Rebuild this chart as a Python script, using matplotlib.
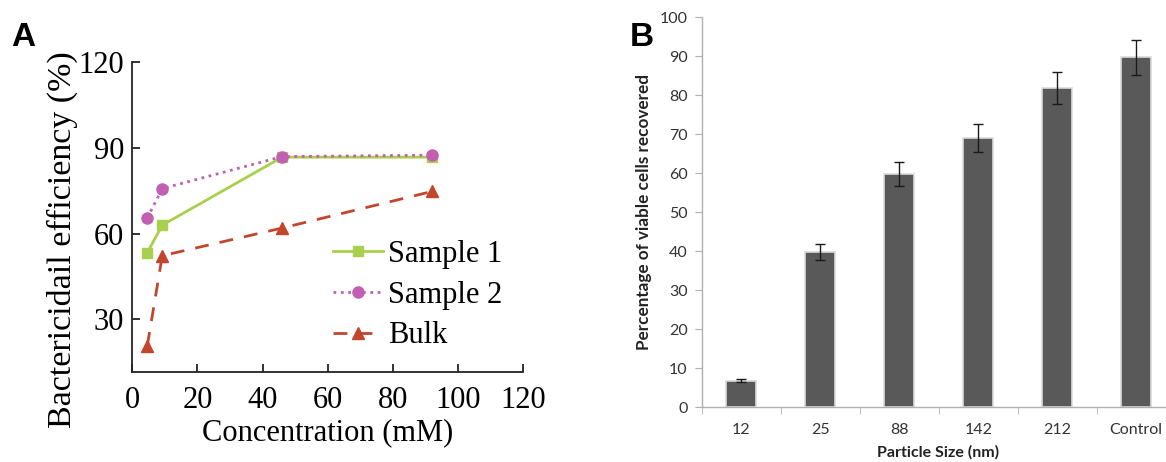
import matplotlib
matplotlib.use('Agg')
import matplotlib.pyplot as plt

# Panel A: bactericidal efficiency vs concentration
conc = [4.6, 9.2, 46, 92]
sample1 = [53.4, 63.0, 86.8, 86.8]
sample2 = [65.5, 75.8, 87.0, 87.5]
bulk = [20.8, 52.3, 62.0, 74.8]

# Panel B: viable cells recovered vs particle size
sizes = ['12', '25', '88', '142', '212', 'Control']
viable = [6.8, 39.9, 59.8, 69.0, 81.9, 89.8]
viable_err = [0.4, 2.1, 3.0, 3.6, 4.2, 4.5]

W, H = 1166, 462
fig = plt.figure(figsize=(W / 100, H / 100), dpi=100)

# ---------- A ----------
serif = 'Liberation Serif'
axA = fig.add_axes([132.3 / W, 1 - 372.3 / H, (523.3 - 132.3) / W, (372.3 - 62.3) / H])
axA.plot(conc, sample1, '-', color='#a8d04c', lw=2, marker='s', ms=7, label='Sample 1')
axA.plot(conc, sample2, ':', color='#c25fb3', lw=2, marker='o', ms=8, label='Sample 2')
axA.plot(conc, bulk, '--', color='#c2462c', lw=2, marker='^', ms=8, dashes=(5, 4), label='Bulk')
axA.set_xlim(0, 120)
axA.set_ylim(11.5, 120)
axA.set_xticks(range(0, 121, 20))
axA.set_yticks([30, 60, 90, 120])
for s in ['top', 'right']:
    axA.spines[s].set_visible(False)
for s in ['left', 'bottom']:
    axA.spines[s].set_linewidth(1.3)
    axA.spines[s].set_color('#222222')
axA.tick_params(direction='in', length=6, width=1.3, labelsize=22, color='#222222')
axA.tick_params(axis='x', pad=10)
axA.tick_params(axis='y', pad=6)
for lab in axA.get_xticklabels() + axA.get_yticklabels():
    lab.set_fontfamily(serif)
axA.set_xlabel('Concentration (mM)', fontsize=22, family=serif, labelpad=2)
axA.set_ylabel('Bactericidail efficiency (%)', fontsize=24.5, family=serif)
axA.yaxis.set_label_coords(-0.139, 0.427)
axA.legend(loc='upper left', bbox_to_anchor=(333 / W, 1 - 240 / H), bbox_transform=fig.transFigure,
           frameon=False, prop={'family': serif, 'size': 22}, handlelength=1.65,
           handletextpad=0.15, labelspacing=0.38, borderpad=0, borderaxespad=0)

# ---------- B ----------
sans = 'Lato'
cat_w = 79.0
axB = fig.add_axes([701.7 / W, 1 - 407.3 / H, 6 * cat_w / W, (407.3 - 17.3) / H])
xpos = list(range(len(sizes)))
axB.bar(xpos, viable, width=0.38, color='#595959', edgecolor='#dadada', linewidth=1.2, zorder=2)
axB.errorbar(xpos, viable, yerr=viable_err, fmt='none', ecolor='#1a1a1a', elinewidth=1,
             capsize=3.5, capthick=1, zorder=3)
axB.set_xlim(-0.5, len(sizes) - 0.5)
axB.set_ylim(0, 100)
axB.set_yticks(range(0, 101, 10))
axB.set_xticks(xpos)
axB.set_xticklabels(sizes)
axB.set_xticks([i - 0.5 for i in range(len(sizes) + 1)], minor=True)
for s in ['top', 'right']:
    axB.spines[s].set_visible(False)
for s in ['left', 'bottom']:
    axB.spines[s].set_color('#b0b0b0')
    axB.spines[s].set_linewidth(1)
axB.tick_params(axis='x', which='major', length=0, pad=11, labelsize=11.5, labelcolor='#333333')
axB.tick_params(axis='x', which='minor', direction='out', length=5, color='#b0b0b0')
axB.tick_params(axis='y', direction='out', length=5, color='#b0b0b0', labelsize=11.5,
                labelcolor='#333333', pad=5)
for lab in axB.get_xticklabels() + axB.get_yticklabels():
    lab.set_fontfamily(sans)
axB.set_xlabel('Particle Size (nm)', fontsize=11.5, fontweight='bold', family=sans,
               color='#222222')
axB.xaxis.set_label_coords(0.4985, -0.097)
axB.set_ylabel('Percentage of viable cells recovered', fontsize=12.3, fontweight='bold',
               family=sans, color='#222222')
axB.yaxis.set_label_coords(-0.105, 0.5)

# panel letters
fig.text(23 / W, 1 - 37 / H, 'A', fontsize=24, fontweight='bold', family='Liberation Sans',
         ha='center', va='center')
fig.text(642 / W, 1 - 37 / H, 'B', fontsize=24, fontweight='bold', family='Liberation Sans',
         ha='center', va='center')

fig.savefig('out.png', dpi=100)
